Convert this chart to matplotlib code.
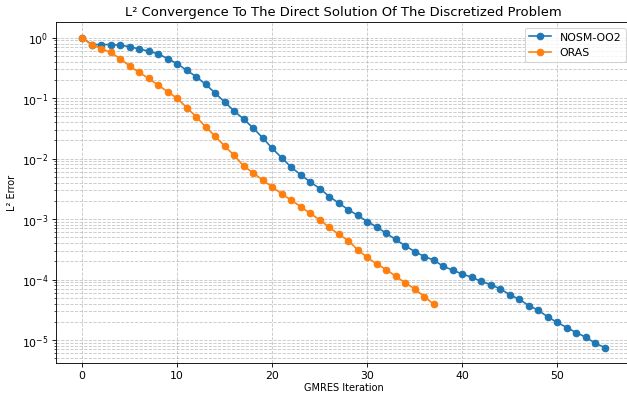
import matplotlib
matplotlib.use("Agg")
from matplotlib import pyplot as plt
import numpy as np

# residual history of each preconditioner, one value per GMRES iteration
nosm_oo2 = [1.0, 0.77, 0.77, 0.77, 0.75, 0.71, 0.65, 0.60, 0.54, 0.45,
            0.37, 0.29, 0.226, 0.169, 0.121, 0.086, 0.061, 0.045, 0.032, 0.022,
            0.0148, 0.0103, 0.0072, 0.0054, 0.0041, 0.0032, 0.00236, 0.00184, 0.00143, 0.00115,
            0.00091, 0.00074, 0.00058, 0.00046, 0.00036, 0.00029, 0.00024, 0.00021, 0.000165, 0.000143,
            0.000123, 0.000109, 9.3e-5, 8.2e-5, 7.0e-5, 5.6e-5, 4.7e-5, 3.7e-5, 3.1e-5, 2.4e-5,
            1.95e-5, 1.6e-5, 1.32e-5, 1.11e-5, 8.8e-6, 7.5e-6]
oras = [1.0, 0.77, 0.66, 0.57, 0.45, 0.34, 0.266, 0.212, 0.164, 0.128,
        0.099, 0.070, 0.049, 0.0335, 0.0233, 0.0161, 0.0113, 0.0075, 0.0058, 0.0044,
        0.0034, 0.0026, 0.00206, 0.0016, 0.00124, 0.00097, 0.00073, 0.00056, 0.00044, 0.00031,
        0.000232, 0.00018, 0.000146, 0.000113, 8.8e-5, 7.0e-5, 5.2e-5, 3.9e-5]

fig, ax = plt.subplots(figsize=(8, 5.05), dpi=78.375)
ax.semilogy(np.arange(len(nosm_oo2)), nosm_oo2, marker='o', label='NOSM-OO2')
ax.semilogy(np.arange(len(oras)), oras, marker='o', label='ORAS')

ax.set_title('L² Convergence To The Direct Solution Of The Discretized Problem')
ax.set_xlabel('GMRES Iteration', fontsize=9, labelpad=1)
ax.set_ylabel('L² Error', fontsize=9)
ax.grid(True, which='both', ls='--', alpha=0.7)
ax.legend()

# axes run slightly past the right edge of the saved image
plt.subplots_adjust(left=56 / 627, right=631 / 627, bottom=32 / 396, top=373 / 396)
plt.savefig('out.png')
